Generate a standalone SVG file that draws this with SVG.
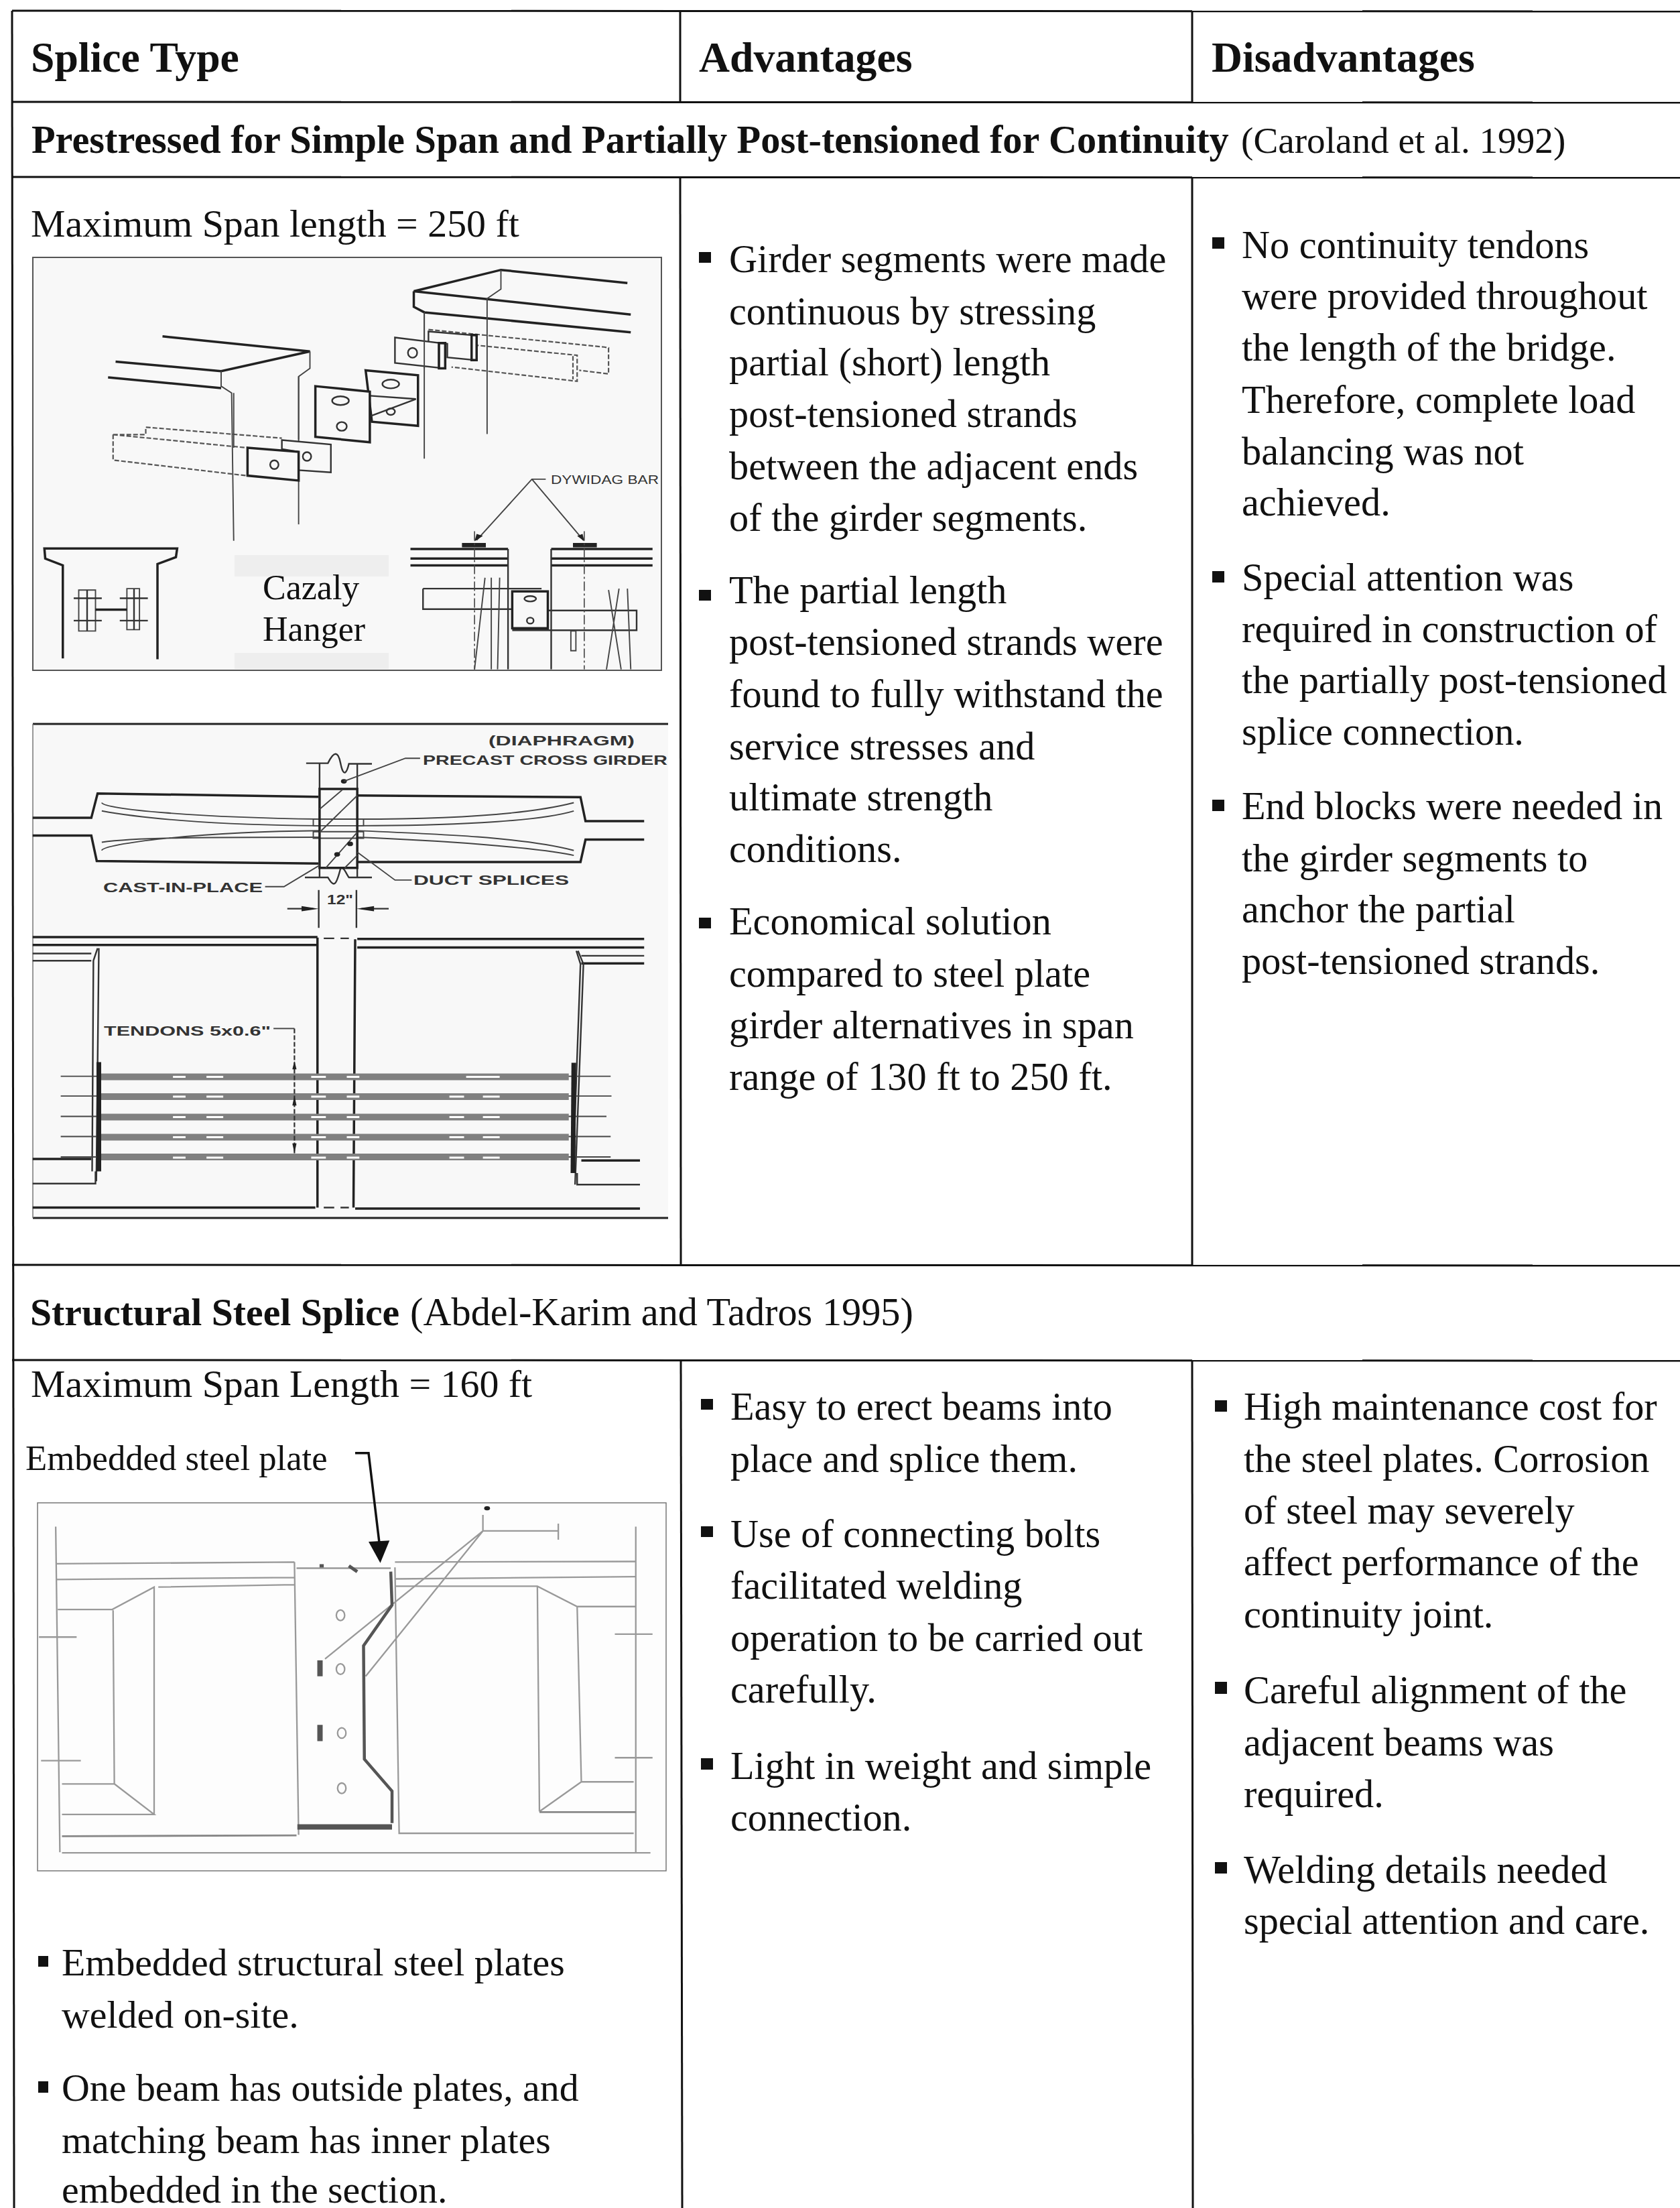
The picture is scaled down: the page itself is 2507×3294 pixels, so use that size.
<svg xmlns="http://www.w3.org/2000/svg" width="2507" height="3294" viewBox="0 0 2507 3294">
<defs>
<style>
text{font-family:"Liberation Serif","Times New Roman",serif;fill:#111}
.b{font-size:58.3px}
.e{font-size:57.9px}
.c{font-size:52px}
.s{font-size:55.2px}
.h{font-size:63.7px;font-weight:bold}
.hb{font-size:58.3px;font-weight:bold}
.hc{font-size:57.7px;font-weight:bold}
.l{font-family:"Liberation Sans",Arial,sans-serif;font-weight:bold;fill:#333;font-size:21px}
.g{fill:#111;stroke:none}
.grid line{stroke:#111;stroke-width:3}
.d path,.d line,.d rect,.d ellipse,.d circle,.d polygon{vector-effect:non-scaling-stroke}
.d{fill:none;stroke:#333;stroke-width:2.4}
.t{stroke-width:3.5;stroke:#222}
.n{stroke-width:1.9;stroke:#444}
.da{stroke-dasharray:7 3;stroke:#555;stroke-width:2.2}
.dd{stroke-dasharray:14 4 3 4;stroke:#444;stroke-width:1.6}
.f{fill:#222;stroke:none}
.ten{stroke:#808080;stroke-width:10}
.wd{stroke:#fff;stroke-width:3;stroke-dasharray:none}
.p3{stroke:#999;stroke-width:2.3;filter:url(#bl)}
.p3d{stroke:#555;stroke-width:4.5;filter:url(#bl)}
</style>
<filter id="bl" x="-5%" y="-5%" width="110%" height="110%"><feGaussianBlur stdDeviation="0.7"/></filter>
</defs>
<rect width="2507" height="3294" fill="#fff"/>

<g id="drawing-cazaly">
<rect x="49" y="384" width="938" height="616" fill="#f8f8f8" stroke="#555" stroke-width="2"/>
<rect x="350" y="828" width="230" height="32" fill="#eee"/>
<rect x="350" y="974" width="230" height="24" fill="#eee"/>
<g class="d" transform="translate(30,370) scale(.625,.40816)">
<path class="t" d="M1450 128L1148 80L940 158L1458 243M940 158V215L965 235L1458 308"/>
<path class="n" d="M1148 80V150L1115 185V680M965 235V770"/>
<path class="da" d="M975 298L1395 362L1405 365V460L1335 447M1020 345L1330 392V487L1030 435M1320 395V480"/>
<path fill="#f8f8f8" d="M975 305L1090 320V410L1020 400V350L975 345Z"/>
<path fill="#f8f8f8" d="M895 327L1000 347V438L895 420Z"/>
<path class="t" d="M1000 347H1015V440H1000ZM1078 318H1090V410H1078Z"/>
<ellipse cx="937" cy="383" rx="11" ry="18"/>
<path class="n" d="M965 235V440"/>
<path class="t" fill="#f8f8f8" d="M825 447L950 465V650L840 635Z"/>
<ellipse cx="885" cy="497" rx="20" ry="16"/><ellipse cx="885" cy="598" rx="10" ry="12"/>
<path d="M835 540L945 552L835 615"/>
<path class="t" fill="#f8f8f8" d="M705 505L835 525V710L705 690Z"/>
<ellipse cx="765" cy="558" rx="20" ry="16"/><ellipse cx="768" cy="652" rx="12" ry="16"/>
<path class="t" d="M340 323L692 378L480 450L228 415M210 473L480 512"/>
<path class="n" d="M692 378V440L665 470V1010M480 450V505L505 530L510 1070"/>
<path class="da" d="M222 682H300V655L625 695M222 682L540 730M222 682V775L540 832"/>
<path fill="#f8f8f8" d="M625 702L742 718V820L665 812V745L625 735Z"/><ellipse cx="685" cy="762" rx="10" ry="16"/>
<path class="t" fill="#f8f8f8" d="M543 730L665 745V850L543 832Z"/><ellipse cx="607" cy="792" rx="10" ry="16"/>
<path class="n" d="M510 530V730M665 470V700"/>
<path class="t" d="M102 1500V1160L60 1135L58 1098H375L372 1130L328 1155V1503"/>
<rect x="140" y="1250" width="40" height="150" class="n"/><rect x="255" y="1245" width="30" height="150" class="n"/>
<path class="t" d="M180 1322H255"/>
<path d="M128 1280H195M128 1362H195M238 1280H305M238 1362H305M160 1250V1400M272 1245V1395"/>
<path class="n" d="M1255 845H1222L1090 1068M1222 845L1345 1068"/>
<polygon class="f" points="1085,1072 1090,1045 1105,1052"/><polygon class="f" points="1347,1072 1330,1052 1343,1045"/>
<rect class="f" x="1055" y="1078" width="57" height="16"/><rect class="f" x="1320" y="1078" width="57" height="16"/>
<path class="t" d="M932 1100H1165M932 1135H1165M932 1160H1165M1268 1100H1510M1268 1135H1510M1268 1160H1510"/>
<path d="M1165 1100V1540M1268 1100V1540M962 1245H1245M962 1245V1320H1175M1175 1325H1472V1397H1175"/>
<path class="dd" d="M1085 1035V1540M1347 1035V1540"/>
<path class="n" d="M1110 1205L1085 1540M1125 1205V1540M1145 1205L1140 1540M1405 1250L1435 1540M1430 1245L1400 1540M1450 1245L1458 1540"/>
<rect class="t" x="1175" y="1255" width="85" height="135" fill="#f8f8f8"/>
<ellipse cx="1218" cy="1282" rx="14" ry="10"/><ellipse cx="1218" cy="1362" rx="8" ry="11"/>
<rect x="1315" y="1400" width="12" height="72" class="n"/>
</g>
<text class="c" x="392" y="894">Cazaly</text>
<text class="c" x="392" y="956">Hanger</text>
<text class="l" x="822" y="722" textLength="161" lengthAdjust="spacingAndGlyphs" style="font-size:18px;font-weight:normal">DYWIDAG BAR</text>
</g>

<g id="drawing-tendons">
<rect x="49" y="1080" width="948" height="737" fill="#f8f8f8"/>
<path d="M49 1080H997M49 1817H997" stroke="#222" stroke-width="3" fill="none"/>
<path d="M49 1080V1817" stroke="#777" stroke-width="1.5" fill="none"/>
<g class="d" transform="translate(30,1060) scale(.625,.4911)">
<path d="M683 160H735C750 120 760 125 765 160C772 205 780 190 785 162H840M715 162V238M805 162V238M680 507H735C750 540 755 530 765 480C772 470 780 500 785 507H840M715 478V505M805 478V505"/>
<circle class="f" cx="773" cy="215" r="7"/>
<path class="n" d="M773 215L920 145H955"/>
<path class="t" d="M30 326H170L185 252L712 262M805 258L1338 263L1350 336H1490M30 380H170L183 457L712 465M805 460L1338 460L1350 392H1490"/>
<path class="n" d="M195 280C200 300 420 325 715 330M195 305C280 325 450 348 715 350M805 330C1000 330 1200 320 1322 280M805 350C1000 350 1230 340 1322 305M195 425C200 405 420 368 715 365M195 400C280 385 450 385 715 385M805 365C1000 375 1200 385 1322 425M805 385C1000 395 1230 415 1322 440"/>
<rect class="n" x="700" y="330" width="120" height="20"/><rect class="n" x="700" y="368" width="120" height="20"/>
<rect class="t" x="715" y="238" width="90" height="240"/>
<path class="n" d="M715 300L770 240M715 370L805 258M730 478L805 370M775 478L805 440"/>
<circle class="f" cx="788" cy="405" r="7"/><circle class="f" cx="757" cy="437" r="7"/>
<path class="n" d="M805 430L895 515H935M715 470L630 535H585"/>
<path d="M713 545V660M803 545V660M638 602H700M880 602H815"/>
<polygon class="f" points="713,602 672,594 672,610"/><polygon class="f" points="803,602 845,594 845,610"/>
<path class="t" d="M30 688H710M30 712H710M805 694H1490M805 720H1490M1340 768H1490"/>
<path d="M30 738H170M30 760H170M1340 745H1490M725 692H750M765 692H785M725 1510H750M765 1510H785"/>
<path class="t" d="M710 690V1510M800 695L796 1510"/>
<path d="M185 722L175 760L172 1400M188 722L182 1430M1332 730L1345 770L1325 1440M1328 730L1338 770L1320 1400"/>
<path class="n" d="M97 1111H1410M97 1171H1412M97 1233H1400M97 1294H1410M97 1356H1410"/>
<path class="ten" d="M190 1113H1310M190 1173H1310M190 1235H1310M190 1296H1310M190 1356H1310"/>
<path class="wd" d="M365 1113H395M445 1113H485M695 1113H730M780 1113H810M1065 1113H1145M365 1173H395M445 1173H485M695 1173H730M780 1173H810M1025 1173H1060M1105 1173H1145M365 1235H395M445 1235H485M695 1235H730M780 1235H810M1025 1235H1060M1105 1235H1145M365 1296H395M445 1296H485M695 1296H730M780 1296H810M1025 1296H1060M1105 1296H1145M365 1358H395M445 1358H485M695 1358H730M780 1358H810M1025 1358H1060M1105 1358H1145"/>
<path d="M188 1068V1400" stroke="#222" stroke-width="7"/><path d="M1322 1070L1320 1405" stroke="#222" stroke-width="7"/>
<path class="n" d="M605 966H655"/><path class="da" d="M655 966V1345" style="stroke:#333"/>
<polygon class="f" points="655,1065 650,1090 660,1090"/><polygon class="f" points="655,1170 650,1200 660,1200"/><polygon class="f" points="655,1345 650,1315 660,1315"/>
<path class="t" d="M30 1362H170M1340 1367H1480M30 1510H705M800 1513H1480"/>
<path d="M30 1437H180V1400M1330 1405V1440H1480"/>
</g>
<text class="l" x="729" y="1112" textLength="218" lengthAdjust="spacingAndGlyphs">(DIAPHRAGM)</text>
<text class="l" x="631" y="1141" textLength="365" lengthAdjust="spacingAndGlyphs">PRECAST CROSS GIRDER</text>
<text class="l" x="617" y="1320" textLength="232" lengthAdjust="spacingAndGlyphs">DUCT SPLICES</text>
<text class="l" x="154" y="1331" textLength="238" lengthAdjust="spacingAndGlyphs">CAST-IN-PLACE</text>
<text class="l" x="488" y="1349" textLength="39" lengthAdjust="spacingAndGlyphs">12"</text>
<text class="l" x="155" y="1545" textLength="249" lengthAdjust="spacingAndGlyphs">TENDONS 5x0.6"</text>
</g>

<g id="drawing-steel-plate">
<rect x="56" y="2242" width="938" height="549" fill="#fdfdfd" stroke="#777" stroke-width="1.5"/>
<g class="d" transform="translate(30,2130) scale(.625,.4337)">
<g class="p3">
<path d="M85 340L95 1460M1470 340V1460M85 468L655 462M85 522L655 515M330 548L655 540M90 625H220L320 548V1330M222 628L225 1225H100M225 1225L320 1330H100M655 462L665 1400M660 483H885"/>
<path d="M895 462L1470 460M895 520L1470 512M895 545H1235L1330 615H1470M1235 545L1240 1320M1330 615L1340 1218H1465M1340 1218L1240 1320M895 480L905 1395H1465M100 1462H1505"/>
<ellipse cx="765" cy="645" rx="10" ry="18"/><ellipse cx="765" cy="830" rx="10" ry="18"/><ellipse cx="768" cy="1050" rx="10" ry="18"/><ellipse cx="768" cy="1240" rx="10" ry="18"/>
<path d="M1105 300V355M1105 355H1285M1285 330V385M1105 355L728 795M1105 355L825 855"/>
<path d="M45 720H135M50 1145H145M1420 710H1510M1420 1135H1510"/>
</g>
<g class="p3d">
<path d="M885 495L888 610L820 750L822 1140L888 1250V1360"/>
<path d="M100 1405L660 1402M1240 1322L1470 1322" style="stroke:#888;stroke-width:2.8"/>
<path d="M662 1373H888" style="stroke-width:8"/>
<path d="M716 800V855M716 1022V1078" style="stroke-width:8"/>
<path d="M785 475L805 495M715 475H725" style="stroke-width:5"/>
</g>
<circle class="f" cx="1115" cy="277" r="7"/>
<path d="M800 87H832L858 400" stroke="#111" stroke-width="3.5"/>
<polygon points="832,392 882,388 860,465" style="fill:#111;stroke:none"/>
</g>
<text x="38" y="2193" style="font-size:52.7px">Embedded steel plate</text>
</g>

<g id="table-grid" class="grid">
<line x1="18" y1="16" x2="2507" y2="17"/>
<line x1="18" y1="152" x2="2507" y2="153"/>
<line x1="18" y1="264" x2="2507" y2="265"/>
<line x1="18" y1="1887" x2="2507" y2="1888"/>
<line x1="18" y1="2029" x2="2507" y2="2030"/>
<line x1="18" y1="16" x2="21" y2="3294"/>
<line x1="1015" y1="16" x2="1015" y2="152"/>
<line x1="1015" y1="264" x2="1016" y2="1887"/>
<line x1="1016" y1="2029" x2="1018" y2="3294"/>
<line x1="1779" y1="16" x2="1779" y2="152"/>
<line x1="1779" y1="264" x2="1779" y2="1887"/>
<line x1="1779" y1="2029" x2="1780" y2="3294"/>
</g>

<g id="header">
<text class="h" x="46" y="107">Splice Type</text>
<text class="h" x="1043" y="107">Advantages</text>
<text class="h" x="1808" y="107">Disadvantages</text>
</g>

<g id="row-prestressed-title">
<text class="hb" x="47" y="228">Prestressed for Simple Span and Partially Post-tensioned for Continuity</text>
<text class="s" x="1852" y="228">(Caroland et al. 1992)</text>
</g>

<g id="prestressed-type"><text class="e" x="46" y="353">Maximum Span length = 250 ft</text></g>

<g id="prestressed-advantages">
<rect class="g" x="1043" y="376" width="18" height="16"/>
<rect class="g" x="1043" y="880" width="18" height="16"/>
<rect class="g" x="1043" y="1369" width="18" height="16"/>
<text class="b" x="1088" y="406">Girder segments were made</text>
<text class="b" x="1088" y="484">continuous by stressing</text>
<text class="b" x="1088" y="560">partial (short) length</text>
<text class="b" x="1088" y="637">post-tensioned strands</text>
<text class="b" x="1088" y="715">between the adjacent ends</text>
<text class="b" x="1088" y="792">of the girder segments.</text>
<text class="b" x="1088" y="900">The partial length</text>
<text class="b" x="1088" y="977">post-tensioned strands were</text>
<text class="b" x="1088" y="1055">found to fully withstand the</text>
<text class="b" x="1088" y="1133">service stresses and</text>
<text class="b" x="1088" y="1209">ultimate strength</text>
<text class="b" x="1088" y="1286">conditions.</text>
<text class="b" x="1088" y="1394">Economical solution</text>
<text class="b" x="1088" y="1472">compared to steel plate</text>
<text class="b" x="1088" y="1549">girder alternatives in span</text>
<text class="b" x="1088" y="1626">range of 130 ft to 250 ft.</text>
</g>

<g id="prestressed-disadvantages">
<rect class="g" x="1809" y="354" width="18" height="17"/>
<rect class="g" x="1809" y="852" width="18" height="17"/>
<rect class="g" x="1809" y="1193" width="18" height="17"/>
<text class="b" x="1853" y="385">No continuity tendons</text>
<text class="b" x="1853" y="461">were provided throughout</text>
<text class="b" x="1853" y="538">the length of the bridge.</text>
<text class="b" x="1853" y="616">Therefore, complete load</text>
<text class="b" x="1853" y="693">balancing was not</text>
<text class="b" x="1853" y="769">achieved.</text>
<text class="b" x="1853" y="881">Special attention was</text>
<text class="b" x="1853" y="958">required in construction of</text>
<text class="b" x="1853" y="1034">the partially post-tensioned</text>
<text class="b" x="1853" y="1111">splice connection.</text>
<text class="b" x="1853" y="1222">End blocks were needed in</text>
<text class="b" x="1853" y="1300">the girder segments to</text>
<text class="b" x="1853" y="1376">anchor the partial</text>
<text class="b" x="1853" y="1453">post-tensioned strands.</text>
</g>

<g id="row-steel-title">
<text class="hc" x="45" y="1977">Structural Steel Splice</text>
<text class="b" x="612" y="1977">(Abdel-Karim and Tadros 1995)</text>
</g>

<g id="steel-type">
<text class="e" x="46" y="2084">Maximum Span Length = 160 ft</text>
<rect class="g" x="57" y="2918" width="15" height="16"/>
<rect class="g" x="57" y="3105" width="15" height="17"/>
<text class="e" x="92" y="2947">Embedded structural steel plates</text>
<text class="e" x="92" y="3025">welded on-site.</text>
<text class="e" x="92" y="3134">One beam has outside plates, and</text>
<text class="e" x="92" y="3212">matching beam has inner plates</text>
<text class="e" x="92" y="3286">embedded in the section.</text>
</g>

<g id="steel-advantages">
<rect class="g" x="1046" y="2087" width="18" height="16"/>
<rect class="g" x="1046" y="2277" width="18" height="16"/>
<rect class="g" x="1046" y="2623" width="18" height="17"/>
<text class="b" x="1090" y="2118">Easy to erect beams into</text>
<text class="b" x="1090" y="2196">place and splice them.</text>
<text class="b" x="1090" y="2308">Use of connecting bolts</text>
<text class="b" x="1090" y="2385">facilitated welding</text>
<text class="b" x="1090" y="2463">operation to be carried out</text>
<text class="b" x="1090" y="2540">carefully.</text>
<text class="b" x="1090" y="2654">Light in weight and simple</text>
<text class="b" x="1090" y="2731">connection.</text>
</g>

<g id="steel-disadvantages">
<rect class="g" x="1813" y="2089" width="18" height="17"/>
<rect class="g" x="1813" y="2509" width="18" height="18"/>
<rect class="g" x="1813" y="2778" width="18" height="17"/>
<text class="b" x="1856" y="2118">High maintenance cost for</text>
<text class="b" x="1856" y="2196">the steel plates. Corrosion</text>
<text class="b" x="1856" y="2273">of steel may severely</text>
<text class="b" x="1856" y="2350">affect performance of the</text>
<text class="b" x="1856" y="2428">continuity joint.</text>
<text class="b" x="1856" y="2541">Careful alignment of the</text>
<text class="b" x="1856" y="2619">adjacent beams was</text>
<text class="b" x="1856" y="2696">required.</text>
<text class="b" x="1856" y="2809">Welding details needed</text>
<text class="b" x="1856" y="2885">special attention and care.</text>
</g>
</svg>
